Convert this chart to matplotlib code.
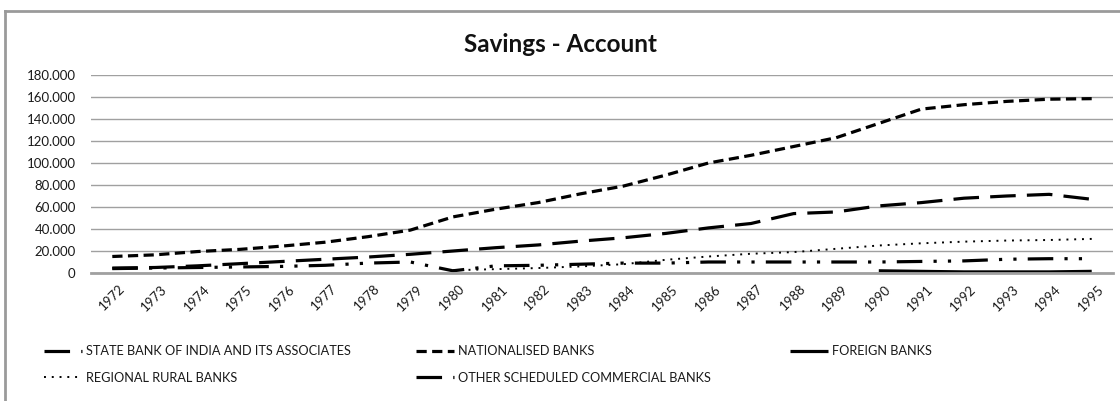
import matplotlib
matplotlib.use('Agg')
import matplotlib.pyplot as plt
import matplotlib.transforms as mtransforms
from matplotlib.lines import Line2D
import numpy as np

plt.rcParams['font.family'] = ['Lato', 'DejaVu Sans']

years = [str(y) for y in range(1972, 1996)]

state_bank = [4.5, 5, 6.5, 8.5, 10.5, 12.5, 14.5, 17, 20, 23, 25.5, 29,
              32, 36, 41, 45, 54, 55.5, 61, 64, 68, 70, 71.5, 67]
nationalised = [15, 16.5, 19.5, 21.5, 24.5, 28, 33, 39, 51, 58, 64, 72,
                79, 89, 100, 107, 115, 123, 136, 149, 153, 156, 158, 158.5]
foreign = [np.nan] * 18 + [2, 1.5, 1, 1, 1, 1.5]
regional = [np.nan] * 8 + [2.5, 3.5, 4.5, 6, 8, 12, 15, 17.5, 19, 22,
                           25, 27, 28.5, 29.5, 30, 31]
other_sched = [4, 4.5, 5, 5.5, 6, 7, 9, 10, 2, 6.5, 7, 8,
               9, 9, 10, 10, 10, 10, 10, 10.5, 11, 12.5, 13, 13]

y_ticks = [0, 20, 40, 60, 80, 100, 120, 140, 160, 180]
y_tick_labels = ['0', '20.000', '40.000', '60.000', '80.000', '100.000',
                 '120.000', '140.000', '160.000', '180.000']

series = [
    ('STATE BANK OF INDIA AND ITS ASSOCIATES', state_bank, dict(lw=2.3, dashes=(8, 3.5))),
    ('REGIONAL RURAL BANKS', regional, dict(lw=1.4, dashes=(1, 3))),
    ('NATIONALISED BANKS', nationalised, dict(lw=2.3, dashes=(3.2, 1.7))),
    ('OTHER SCHEDULED COMMERCIAL BANKS', other_sched, dict(lw=2.3, dashes=(8, 3.5, 1, 3.5, 1, 3.5))),
    ('FOREIGN BANKS', foreign, dict(lw=2.3)),
]

fig = plt.figure(figsize=(11.2, 4.01), dpi=100)
ax = fig.add_axes([91 / 1120, 128 / 401, 1022 / 1120, 198 / 401])

x = np.arange(len(years))
handles = {}
for name, vals, style in series:
    ln, = ax.plot(x, vals, color='black', solid_capstyle='butt',
                  dash_capstyle='butt', label=name, **style)
    handles[name] = ln

ax.set_xlim(-0.5, len(years) - 0.5)
ax.set_ylim(0, 180)
ax.set_yticks(y_ticks)
ax.set_yticklabels(y_tick_labels)
ax.set_xticks(x)
ax.set_xticklabels(years, rotation=45, ha='right', va='center', rotation_mode='anchor')
ax.tick_params(axis='both', length=0, labelsize=9.5, colors='#1a1a1a')
ax.tick_params(axis='x', pad=10)
ax.tick_params(axis='y', pad=11)
shift = mtransforms.ScaledTranslation(10 / 100, 0, fig.dpi_scale_trans)
for lab in ax.get_xticklabels():
    lab.set_transform(lab.get_transform() + shift)
ax.yaxis.grid(True, color='#a0a0a0', lw=1)
ax.set_axisbelow(True)
for s in ['top', 'right', 'left']:
    ax.spines[s].set_visible(False)
ax.spines['bottom'].set_color('#a0a0a0')
ax.spines['bottom'].set_linewidth(2)

fig.text(0.5, 1 - 45 / 401, 'Savings - Account', ha='center', va='center',
         fontsize=17.5, fontweight='bold', color='#111111')

# outer chart frame (top and left edges visible)
fig.add_artist(Line2D([5 / 1120, 5 / 1120], [0, 1 - 11 / 401], color='#9a9a9a', lw=2,
                      transform=fig.transFigure))
fig.add_artist(Line2D([5 / 1120, 1], [1 - 11 / 401, 1 - 11 / 401], color='#9a9a9a', lw=2,
                      transform=fig.transFigure))

# legend, three columns placed by hand
columns = [
    (44, ['STATE BANK OF INDIA AND ITS ASSOCIATES', 'REGIONAL RURAL BANKS']),
    (416, ['NATIONALISED BANKS', 'OTHER SCHEDULED COMMERCIAL BANKS']),
    (790, ['FOREIGN BANKS']),
]
for xpos, names in columns:
    leg = fig.legend([handles[n] for n in names], names, loc='upper left',
                     bbox_to_anchor=(xpos / 1120, 1 - 345 / 401), frameon=False,
                     fontsize=9.2, handlelength=3.0, handletextpad=0.3,
                     borderpad=0, borderaxespad=0, labelspacing=1.15)
    for t in leg.get_texts():
        t.set_color('#1a1a1a')

fig.savefig('out.png', dpi=100)
